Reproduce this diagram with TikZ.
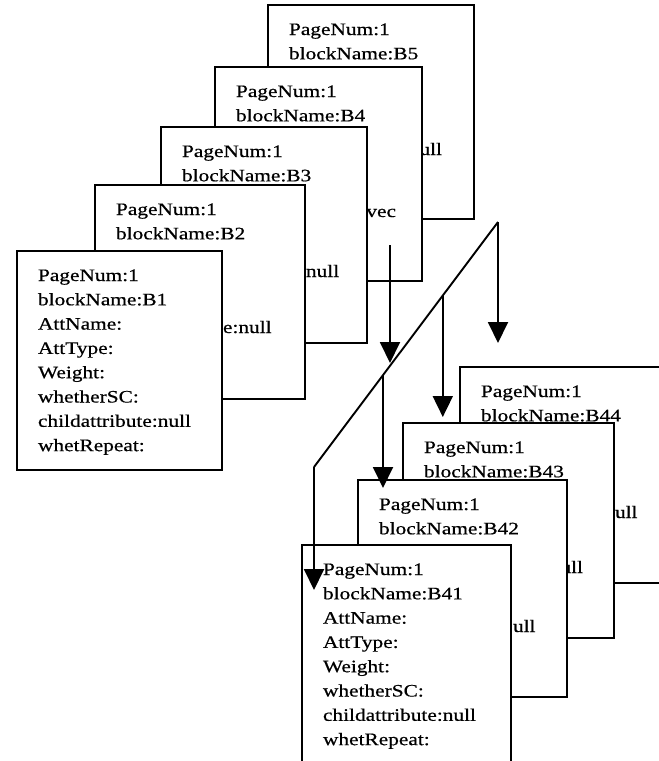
\documentclass[tikz,border=0pt]{standalone}
\usepackage{fontspec}
\setmainfont{Liberation Serif}
\newfontfamily\cardfont{Liberation Serif}[FakeBold=0.5]
\usepackage{graphicx}
\usetikzlibrary{arrows.meta,calc}

\tikzset{
  card/.style={draw=black, fill=white, line width=1.9pt, rectangle,
    inner sep=0pt, outer sep=0pt, anchor=north west},
  cardtext/.style={anchor=base west, inner sep=0pt, outer sep=0pt,
    font=\cardfont\fontsize{17.5}{20}\selectfont},
  bus/.style={line width=1.9pt},
  link/.style={line width=1.9pt, -{Triangle[length=21pt,width=20pt]}},
}

% slightly widened serif lettering
\newcommand\wide[1]{\scalebox{1.22}[1]{#1}}
% \card{name}{left}{top}{right}{bottom}{lines}
\newcommand\card[6]{%
  \node[card, minimum width={#4pt-#2pt}, minimum height={#5pt-#3pt}] (#1) at (#2,#3) {};
  \foreach \t [count=\i] in {#6}
    \node[cardtext] (#1-\i) at ({#2+21},{#3+30+24.3*(\i-1)}) {\wide{\t}};
}

\begin{document}
\begin{tikzpicture}[x=1pt,y=-1pt]
\useasboundingbox (0,0) rectangle (659,761);
\fill[white] (0,0) rectangle (659,761);
\clip (0,0) rectangle (659,761);

% upper stack of blocks, back to front
\card{b5}{268}{5}{474}{219}{PageNum:1,blockName:B5}
\node[cardtext, anchor=base east] (b5-frag) at (442,155) {\wide{ull}};
\card{b4}{215}{67}{422}{281}{PageNum:1,blockName:B4}
\node[cardtext, anchor=base east] (b4-frag) at (396,217) {\wide{vec}};
\card{b3}{161}{127}{367}{343}{PageNum:1,blockName:B3}
\node[cardtext] (b3-frag) at (306,277) {\wide{null}};
\card{b2}{95}{185}{305}{399}{PageNum:1,blockName:B2}
\node[cardtext] (b2-frag) at (223,333) {\wide{e:null}};
\card{b1}{17}{251}{222}{470}{PageNum:1,blockName:B1,AttName:,AttType:,Weight:,whetherSC:,childattribute:null,whetRepeat:}

% lower stack of blocks, back to front
\card{b44}{460}{367}{700}{583}{PageNum:1,blockName:B44}
\node[cardtext] (b44-frag) at (615,518) {\wide{ull}};
\card{b43}{403}{423}{614}{638}{PageNum:1,blockName:B43}
\node[cardtext, anchor=base east] (b43-frag) at (583,573) {\wide{ull}};
\card{b42}{358}{480}{567}{697}{PageNum:1,blockName:B42}
\node[cardtext] (b42-frag) at (513,632) {\wide{ull}};
\card{b41}{302}{545}{511}{800}{PageNum:1,blockName:B41,AttName:,AttType:,Weight:,whetherSC:,childattribute:null,whetRepeat:}

% distribution line and arrows
\coordinate (d1) at (314,467);
\coordinate (d2) at (498,222);
\draw[bus] (d1) -- (d2);

\coordinate (vecsrc) at (390,245);
\coordinate (vectip) at (390,363);
\draw[link] (vecsrc) -- (vectip);

\coordinate (s43) at ($(d1)!0.7!(d2)$);
\coordinate (t43) at (443,417);
\draw[link] (s43) -- (s43 |- t43);

\coordinate (s42) at ($(d1)!0.375!(d2)$);
\coordinate (t42) at (383,488);
\draw[link] (s42) -- (s42 |- t42);

\coordinate (t44) at (499,343);
\draw[link] (d2) -- (d2 |- t44);

\coordinate (t41) at (315,590);
\draw[link] (d1) -- (d1 |- t41);
\end{tikzpicture}
\end{document}
